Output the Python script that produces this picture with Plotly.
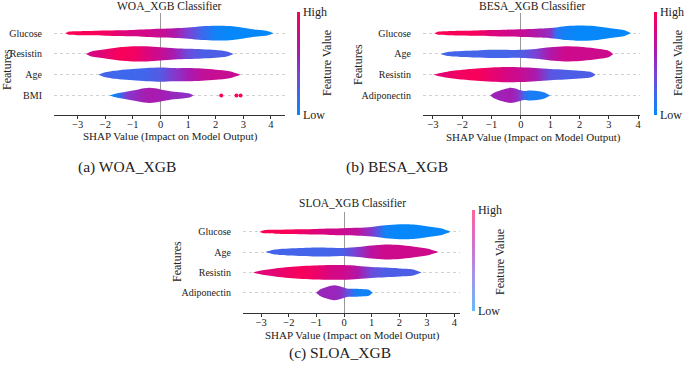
import plotly.graph_objects as go

# ---------------- data ----------------
TITLES = ["WOA_XGB Classifier", "BESA_XGB Classifier", "SLOA_XGB Classifier"]
CAPTIONS = ["(a) WOA_XGB", "(b) BESA_XGB", "(c) SLOA_XGB"]
X_TICKS = [-3, -2, -1, 0, 1, 2, 3, 4]
X_LABEL = "SHAP Value (Impact on Model Output)"
Y_LABEL = "Features"
CB_LABEL = "Feature Value"
CB_TICKS = ["Low", "High"]

FEATURES_A = ["Glucose", "Resistin", "Age", "BMI"]
FEATURES_B = ["Glucose", "Age", "Resistin", "Adiponectin"]
FEATURES_C = ["Glucose", "Age", "Resistin", "Adiponectin"]

# Each violin: SHAP knots (X), density half-width (D), mean feature value (F, 0=low,1=high)
A_GLU_X = [-3.45, -3.3, -3.0, -2.5, -2.0, -1.5, -1.0, -0.5, 0.0, 0.5, 1.0, 1.5, 2.0, 2.5, 3.0, 3.5, 3.9, 4.1]
A_GLU_D = [0, 1.6, 2.0, 2.2, 2.5, 2.8, 3.2, 3.8, 4.3, 4.8, 5.5, 6.8, 7.3, 7.0, 5.3, 3.3, 2.0, 0]
A_GLU_F = [1.0, 1.0, 0.98, 0.97, 0.95, 0.88, 0.82, 0.8, 0.75, 0.65, 0.4, 0.2, 0.05, 0.02, 0.02, 0.02, 0.02, 0.02]

A_RES_X = [-2.7, -2.5, -2.0, -1.5, -1.0, -0.5, 0.0, 0.5, 1.0, 1.5, 2.0, 2.4, 2.65]
A_RES_D = [0, 2.5, 4.5, 6.5, 7.5, 7.5, 6.5, 5.5, 5.0, 4.5, 3.8, 2.5, 0]
A_RES_F = [0.8, 0.82, 0.88, 0.97, 0.95, 0.85, 0.75, 0.6, 0.35, 0.25, 0.25, 0.25, 0.25]

A_AGE_X = [-2.25, -2.0, -1.5, -1.0, -0.5, 0.0, 0.5, 1.0, 1.5, 2.0, 2.5, 2.9]
A_AGE_D = [0, 2.5, 4.5, 5.5, 6.5, 7.0, 6.5, 6.5, 6.0, 5.0, 3.5, 0]
A_AGE_F = [0.22, 0.22, 0.2, 0.2, 0.22, 0.28, 0.45, 0.6, 0.72, 0.75, 0.75, 0.75]

A_BMI_X = [-1.85, -1.6, -1.2, -0.8, -0.4, 0.0, 0.4, 0.8, 1.05, 1.2]
A_BMI_D = [0, 2.0, 4.0, 6.0, 7.5, 6.0, 4.0, 3.0, 2.0, 0]
A_BMI_F = [0.05, 0.05, 0.45, 0.55, 0.62, 0.6, 0.55, 0.5, 0.5, 0.5]
A_BMI_OUTLIERS = [2.2, 2.75, 2.9]

B_GLU_X = [-2.95, -2.8, -2.5, -2.0, -1.5, -1.0, -0.5, 0.0, 0.5, 1.0, 1.2, 1.5, 2.0, 2.5, 3.0, 3.5, 3.75]
B_GLU_D = [0, 1.6, 2.0, 2.3, 2.6, 3.0, 3.4, 3.8, 4.3, 5.0, 5.6, 6.8, 7.5, 7.0, 5.0, 3.0, 0]
B_GLU_F = [1.0, 1.0, 0.98, 0.97, 0.95, 0.85, 0.8, 0.75, 0.65, 0.5, 0.15, 0.05, 0.02, 0.02, 0.02, 0.02, 0.02]

B_AGE_X = [-2.75, -2.5, -2.0, -1.5, -1.0, -0.5, 0.0, 0.5, 1.0, 1.5, 2.0, 2.5, 3.0, 3.15]
B_AGE_D = [0, 2.0, 3.0, 3.5, 4.0, 4.0, 4.0, 4.8, 6.5, 7.5, 7.0, 5.5, 3.0, 0]
B_AGE_F = [0.22, 0.22, 0.22, 0.22, 0.22, 0.22, 0.25, 0.4, 0.65, 0.78, 0.78, 0.78, 0.78, 0.78]

B_RES_X = [-3.0, -2.8, -2.5, -2.0, -1.5, -1.0, -0.5, 0.0, 0.5, 1.0, 1.5, 2.0, 2.4, 2.55]
B_RES_D = [0, 1.5, 3.0, 4.8, 6.0, 7.0, 7.5, 7.3, 6.5, 5.5, 4.8, 3.8, 2.5, 0]
B_RES_F = [0.85, 0.87, 0.9, 0.95, 0.97, 0.9, 0.82, 0.75, 0.62, 0.3, 0.25, 0.25, 0.25, 0.25]

B_ADI_X = [-1.05, -0.9, -0.6, -0.35, -0.1, 0.1, 0.3, 0.55, 0.8, 1.0]
B_ADI_D = [0, 3.0, 6.0, 7.5, 6.0, 4.5, 5.0, 4.5, 3.0, 0]
B_ADI_F = [0.55, 0.56, 0.58, 0.6, 0.5, 0.2, 0.08, 0.08, 0.08, 0.08]

C_GLU_X = [-3.07, -2.9, -2.5, -2.0, -1.5, -1.0, -0.5, 0.0, 0.5, 1.0, 1.5, 2.0, 2.5, 3.0, 3.5, 3.87]
C_GLU_D = [0, 1.6, 2.0, 2.3, 2.5, 2.8, 3.2, 3.6, 4.0, 4.8, 6.5, 7.5, 7.3, 5.5, 3.5, 0]
C_GLU_F = [1.0, 1.0, 0.98, 0.97, 0.93, 0.85, 0.8, 0.76, 0.7, 0.45, 0.05, 0.02, 0.02, 0.02, 0.02, 0.02]

C_AGE_X = [-2.86, -2.5, -2.0, -1.5, -1.0, -0.5, 0.0, 0.5, 1.0, 1.5, 2.0, 2.5, 3.0, 3.42]
C_AGE_D = [0, 2.5, 3.5, 4.0, 4.5, 4.3, 4.0, 5.0, 6.5, 7.5, 7.0, 5.5, 3.5, 0]
C_AGE_F = [0.22, 0.22, 0.22, 0.22, 0.22, 0.22, 0.25, 0.45, 0.7, 0.78, 0.78, 0.78, 0.78, 0.78]

C_RES_X = [-3.3, -3.0, -2.5, -2.0, -1.5, -1.0, -0.5, 0.0, 0.5, 1.0, 1.5, 2.0, 2.5, 2.81]
C_RES_D = [0, 2.0, 4.0, 5.5, 6.5, 7.0, 7.3, 7.3, 6.5, 5.5, 4.8, 4.0, 3.0, 0]
C_RES_F = [0.85, 0.86, 0.88, 0.93, 0.97, 0.92, 0.82, 0.78, 0.65, 0.35, 0.25, 0.25, 0.25, 0.25]

C_ADI_X = [-1.01, -0.85, -0.6, -0.35, -0.1, 0.15, 0.4, 0.7, 0.9, 1.04]
C_ADI_D = [0, 3.5, 6.0, 7.5, 6.0, 4.0, 4.0, 3.5, 3.0, 0]
C_ADI_F = [0.55, 0.55, 0.55, 0.55, 0.5, 0.3, 0.08, 0.05, 0.05, 0.05]

VIOLINS_A = [(A_GLU_X, A_GLU_D, A_GLU_F), (A_RES_X, A_RES_D, A_RES_F), (A_AGE_X, A_AGE_D, A_AGE_F), (A_BMI_X, A_BMI_D, A_BMI_F)]
VIOLINS_B = [(B_GLU_X, B_GLU_D, B_GLU_F), (B_AGE_X, B_AGE_D, B_AGE_F), (B_RES_X, B_RES_D, B_RES_F), (B_ADI_X, B_ADI_D, B_ADI_F)]
VIOLINS_C = [(C_GLU_X, C_GLU_D, C_GLU_F), (C_AGE_X, C_AGE_D, C_AGE_F), (C_RES_X, C_RES_D, C_RES_F), (C_ADI_X, C_ADI_D, C_ADI_F)]

# ---------------- styling ----------------
W, H = 685, 376
FONT = "Liberation Serif"
TXT = "#222222"
CS = [(0.0, (0, 139, 251)), (0.2, (62, 104, 236)), (0.4, (122, 66, 214)),
      (0.6, (165, 28, 178)), (0.8, (210, 8, 136)), (1.0, (255, 0, 82))]


def fv_rgb(v):
    v = min(max(v, 0.0), 1.0)
    for (p0, c0), (p1, c1) in zip(CS[:-1], CS[1:]):
        if v <= p1:
            t = (v - p0) / (p1 - p0)
            return tuple(round(a + (b - a) * t) for a, b in zip(c0, c1))
    return CS[-1][1]


def fv_color(v, fade=0.0):
    r, g, b = fv_rgb(v)
    r, g, b = (round(c + (255 - c) * fade) for c in (r, g, b))
    return "rgb(%d,%d,%d)" % (r, g, b)


def violin(xs, ds, fs, row, xa, ya, scale):
    up = [row + d * scale for d in ds]
    lo = [row - d * scale for d in ds]
    px = list(xs) + list(xs[::-1]) + [xs[0]]
    py = up + lo[::-1] + [up[0]]
    x0, x1 = xs[0], xs[-1]
    cs = [[(x - x0) / (x1 - x0), fv_color(f)] for x, f in zip(xs, fs)]
    cs[0][0] = 0.0
    cs[-1][0] = 1.0
    return go.Scatter(x=px, y=py, mode="lines", line=dict(width=0, shape="spline", smoothing=0.8),
                      fill="toself", fillgradient=dict(type="horizontal", colorscale=cs, start=x0, stop=x1),
                      xaxis=xa, yaxis=ya, hoverinfo="skip", showlegend=False)


def cbar(xa, ya, xpx, ytop, ybot, fade):
    scale = [[i / 10, fv_color(i / 10, fade)] for i in range(11)]
    return go.Scatter(
        x=[-100], y=[0], mode="markers", xaxis=xa, yaxis=ya, hoverinfo="skip", showlegend=False,
        marker=dict(size=1, color=[0], cmin=0, cmax=1, colorscale=scale, showscale=True,
                    colorbar=dict(x=xpx / W, xanchor="left", y=1 - (ytop + ybot) / 2 / H, yanchor="middle",
                                  len=(ybot - ytop) / H, lenmode="fraction", thickness=3, outlinewidth=0,
                                  xpad=0, ypad=0, tickvals=[0, 1], ticktext=CB_TICKS, ticks="",
                                  tickfont=dict(family=FONT, size=12, color=TXT))))


panels = [
    dict(feats=FEATURES_A, vio=VIOLINS_A, xa="x", ya="y", xd=(54, 285), yd=(13, 114.5), xr=[-3.86, 4.51],
         yr=[-0.92, 3.97], rowpx=20.67, cbx=297, cbt=12.5, cbb=115, fade=0.0),
    dict(feats=FEATURES_B, vio=VIOLINS_B, xa="x2", ya="y2", xd=(423, 640), yd=(13, 114.5), xr=[-3.34, 4.06],
         yr=[-0.92, 3.97], rowpx=20.67, cbx=654, cbt=12.5, cbb=115, fade=0.0),
    dict(feats=FEATURES_C, vio=VIOLINS_C, xa="x3", ya="y3", xd=(243, 460), yd=(212, 312.7), xr=[-3.66, 4.2],
         yr=[-0.98, 3.97], rowpx=20.3, cbx=472, cbt=210, cbb=311, fade=0.4),
]

fig = go.Figure()
layout = dict(width=W, height=H, margin=dict(l=0, r=0, t=0, b=0), paper_bgcolor="white",
              plot_bgcolor="white", showlegend=False)

for i, p in enumerate(panels):
    rows = [len(p["feats"]) - 1 - k for k in range(len(p["feats"]))]
    for (xs, ds, fs), r in zip(p["vio"], rows):
        fig.add_trace(violin(xs, ds, fs, r, p["xa"], p["ya"], 1.0 / p["rowpx"]))
    if i == 0:
        fig.add_trace(go.Scatter(x=A_BMI_OUTLIERS, y=[rows[3]] * len(A_BMI_OUTLIERS), mode="markers",
                                 marker=dict(size=4, color=fv_color(1.0)), xaxis="x", yaxis="y",
                                 hoverinfo="skip", showlegend=False))
    fig.add_trace(cbar(p["xa"], p["ya"], p["cbx"], p["cbt"], p["cbb"], p["fade"]))
    xkey = "xaxis" if i == 0 else "xaxis%d" % (i + 1)
    ykey = "yaxis" if i == 0 else "yaxis%d" % (i + 1)
    yname = "y" if i == 0 else "y%d" % (i + 1)
    xname = "x" if i == 0 else "x%d" % (i + 1)
    layout[xkey] = dict(domain=[p["xd"][0] / W, p["xd"][1] / W], anchor=yname, range=p["xr"],
                        tickvals=X_TICKS, ticks="outside", ticklen=3, tickcolor="#333", showline=True,
                        linecolor="#333", linewidth=1, showgrid=False, zeroline=True,
                        zerolinecolor="#999999", zerolinewidth=1, automargin=False,
                        ticklabelstandoff=-3,
                        tickfont=dict(family=FONT, size=10.5, color=TXT))
    layout[ykey] = dict(domain=[1 - p["yd"][1] / H, 1 - p["yd"][0] / H], anchor=xname, range=p["yr"],
                        tickvals=rows, ticktext=p["feats"], ticks="", showline=False, zeroline=False,
                        showgrid=True, griddash="dot", gridcolor="#d0d0d0", gridwidth=1,
                        ticklabelstandoff=11, automargin=False,
                        tickfont=dict(family=FONT, size=10, color=TXT))

ann = []


def text(s, x, y, size, angle=0):
    ann.append(dict(text=s, x=x / W, y=1 - y / H, xref="paper", yref="paper", xanchor="center",
                    yanchor="middle", showarrow=False, textangle=angle,
                    font=dict(family=FONT, size=size, color=TXT)))


# titles
text(TITLES[0], 169.5, 6, 11.5)
text(TITLES[1], 532, 6, 11.5)
text(TITLES[2], 352, 203, 11.5)
# x axis titles
text(X_LABEL, 170, 137, 11)
text(X_LABEL, 533, 137.5, 11)
text(X_LABEL, 353, 335, 11)
# y axis titles
text(Y_LABEL, 7, 70, 12, -90)
text(Y_LABEL, 358, 65, 12, -90)
text(Y_LABEL, 177, 262, 12, -90)
# colorbar titles
text(CB_LABEL, 327, 63, 12, -90)
text(CB_LABEL, 678, 63, 12, -90)
text(CB_LABEL, 500, 262, 12, -90)
# captions
text(CAPTIONS[0], 127, 167, 15.5)
text(CAPTIONS[1], 397, 167, 15.5)
text(CAPTIONS[2], 340, 353, 15.5)

layout["annotations"] = ann
fig.update_layout(**layout)
fig.write_html("out.html", config={"displayModeBar": False},
               post_script="document.body.style.margin='0';document.body.style.padding='0';")
